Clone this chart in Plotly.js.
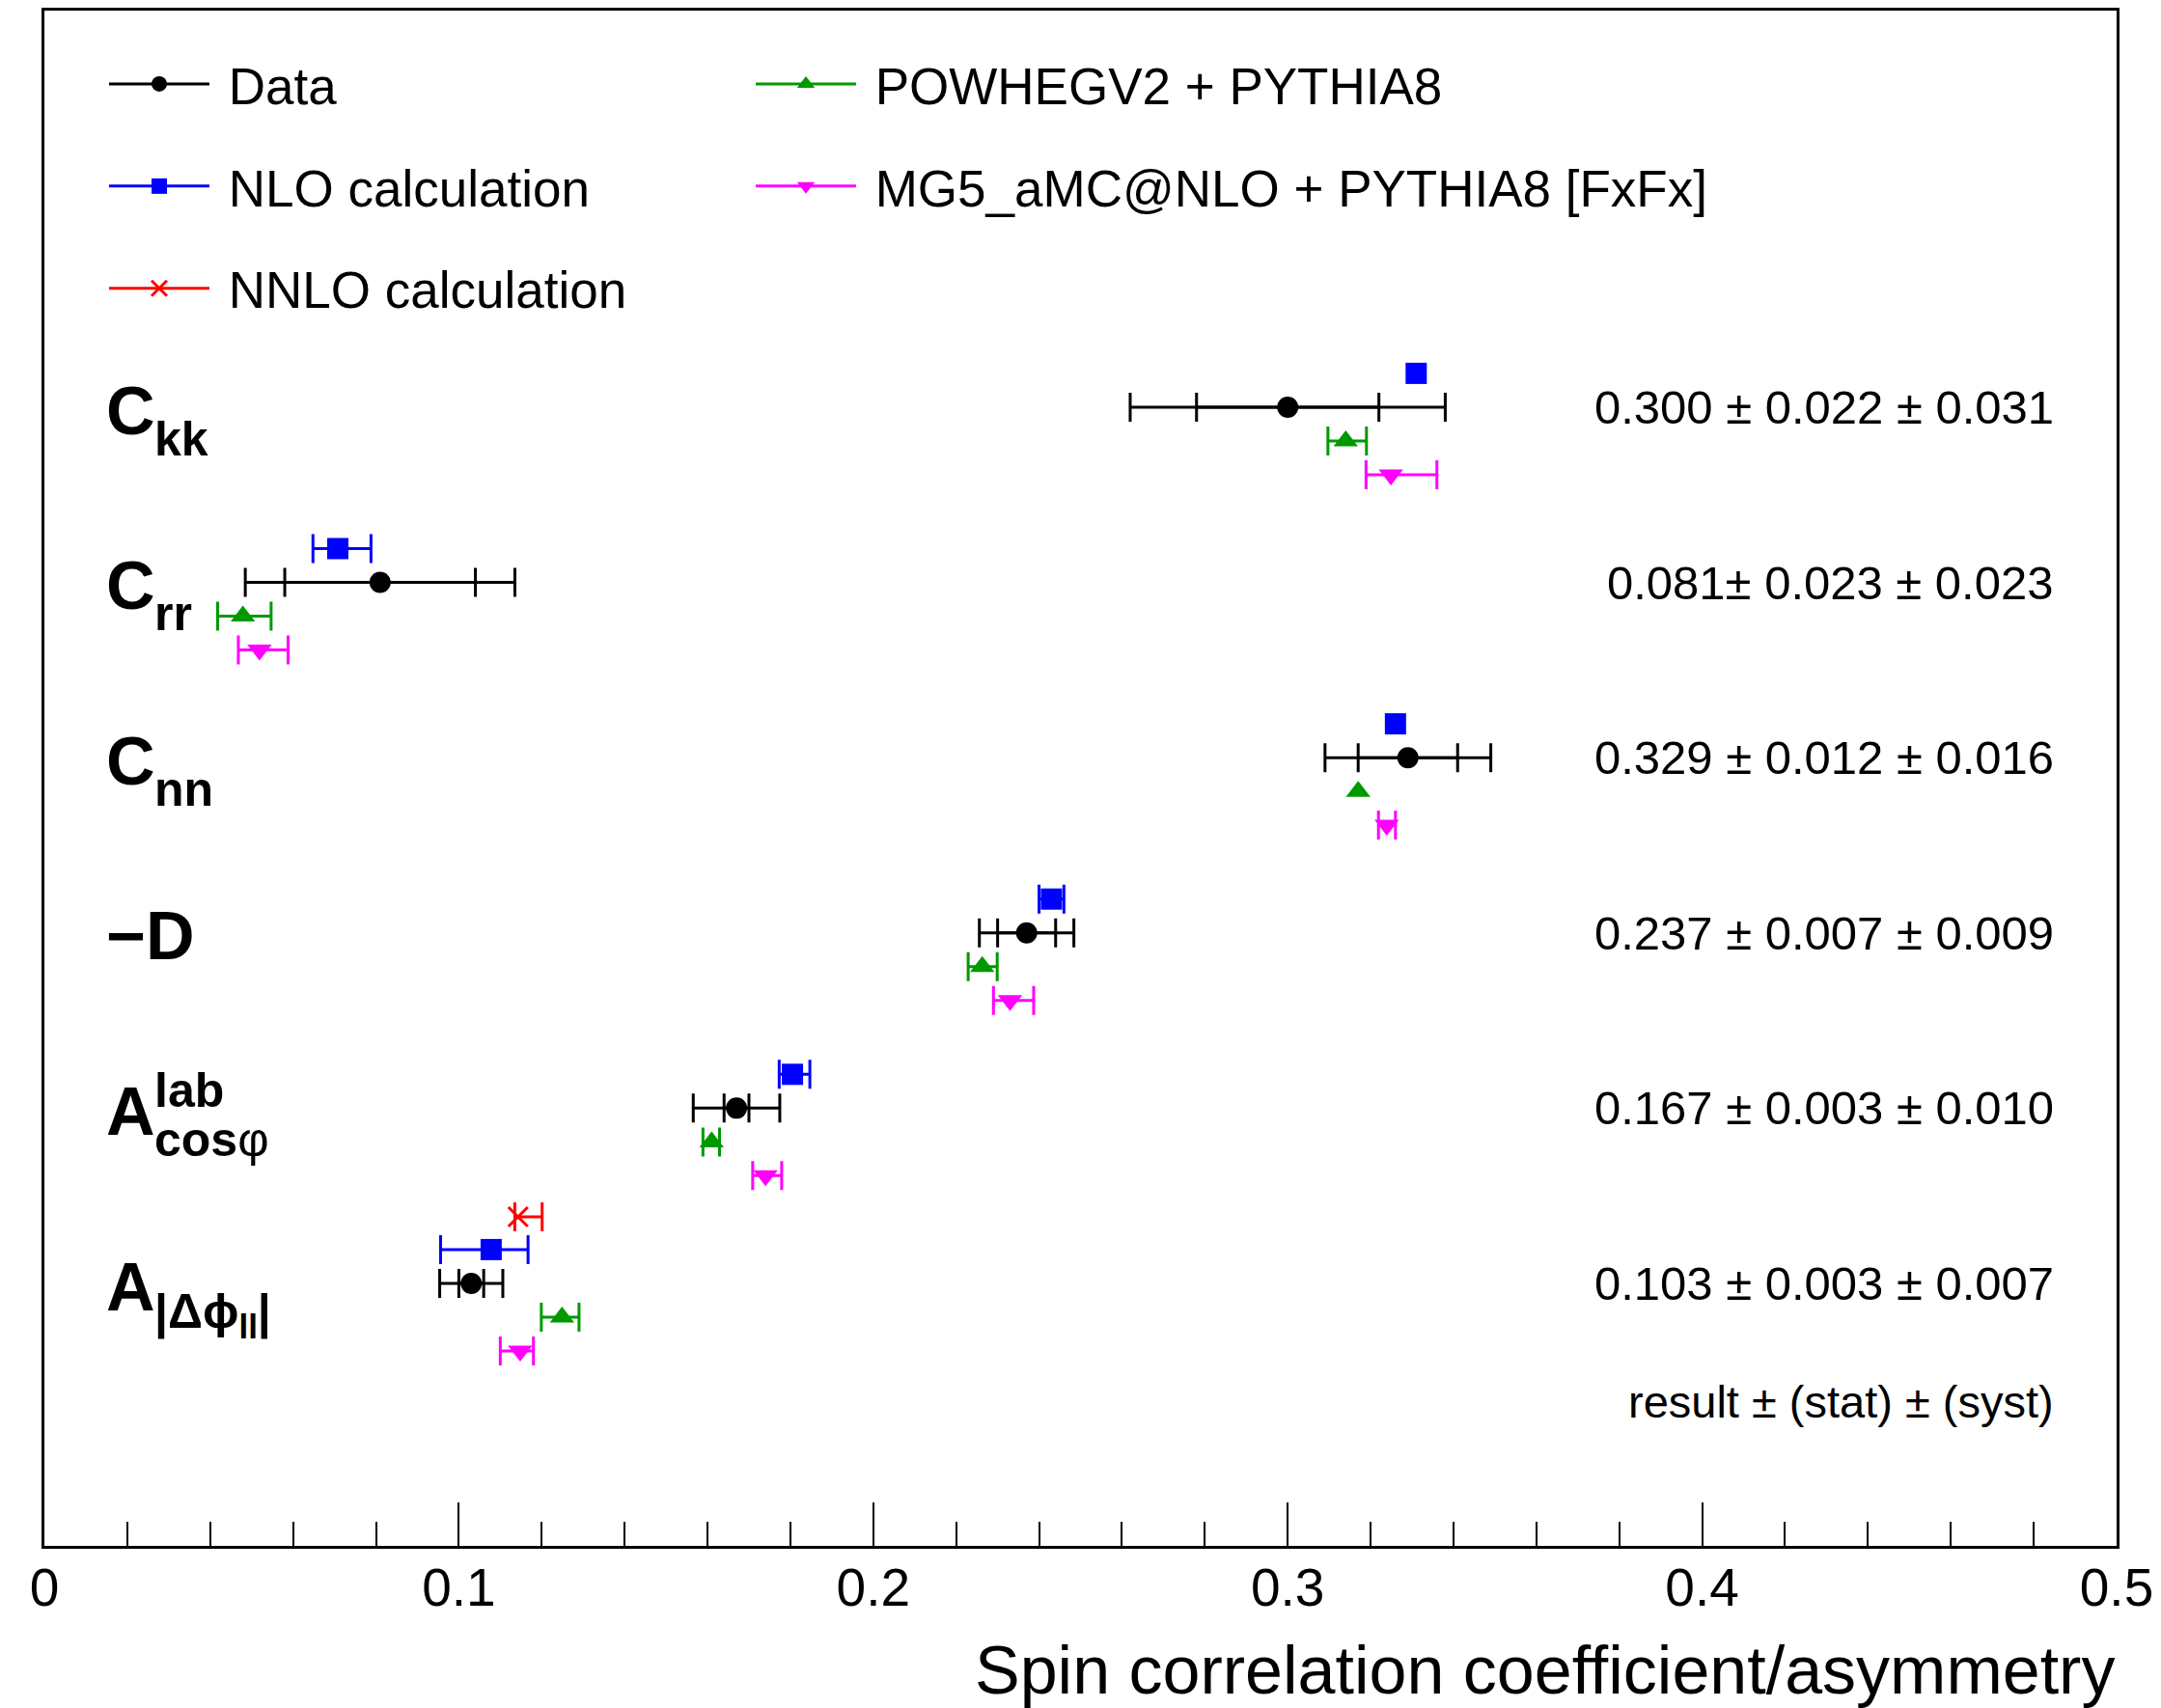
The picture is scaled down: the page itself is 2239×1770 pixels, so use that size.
<!DOCTYPE html>
<html><head><meta charset="utf-8">
<script src="https://cdn.plot.ly/plotly-3.0.1.min.js"></script>
<style>html,body{margin:0;padding:0;background:#fff}</style>
</head><body>
<div id="chart" style="width:2239px;height:1770px"></div>
<script>
// ---------------- data ----------------
const categories = ['Ckk', 'Crr', 'Cnn', '-D', 'Acos', 'Adphi'];
const labelMain = ['C', 'C', 'C', '\u2212D', 'A', 'A'];
const labelSub = ['kk', 'rr', 'nn', '', 'cos<span style="font-weight:normal">\u03c6</span>', '|\u0394\u03d5<sub>ll</sub>|'];
const labelSup = ['', '', '', '', 'lab', ''];
const resultText = [
  '0.300 \u00b1 0.022 \u00b1 0.031',
  '0.081\u00b1 0.023 \u00b1 0.023',
  '0.329 \u00b1 0.012 \u00b1 0.016',
  '0.237 \u00b1 0.007 \u00b1 0.009',
  '0.167 \u00b1 0.003 \u00b1 0.010',
  '0.103 \u00b1 0.003 \u00b1 0.007'
];
const resultNote = 'result \u00b1 (stat) \u00b1 (syst)';

const dataVal  = [0.300, 0.081, 0.329, 0.237, 0.167, 0.103];
const dataStat = [0.022, 0.023, 0.012, 0.007, 0.003, 0.003];
const dataSyst = [0.031, 0.023, 0.016, 0.009, 0.010, 0.007];

// null = uncertainty too small to be visible
const nloVal   = [0.331, 0.0708, 0.326, 0.243, 0.1805, 0.1078];
const nloMinus = [null, 0.006, null, 0.003, 0.0032, 0.0122];
const nloPlus  = [null, 0.008, null, 0.003, 0.0042, 0.0089];

const nnloVal   = [null, null, null, null, null, 0.1143];
const nnloMinus = [null, null, null, null, null, 0.0008];
const nnloPlus  = [null, null, null, null, null, 0.0058];

const powVal   = [0.314, 0.0479, 0.317, 0.2263, 0.161, 0.1249];
const powMinus = [0.0043, 0.0061, null, 0.0034, 0.0021, 0.005];
const powPlus  = [0.005, 0.0068, null, 0.0036, 0.0019, 0.0041];

const mgVal   = [0.3249, 0.0519, 0.3239, 0.2330, 0.174, 0.1148];
const mgMinus = [0.006, 0.0051, 0.002, 0.004, 0.0031, 0.0048];
const mgPlus  = [0.0111, 0.0069, 0.0021, 0.0057, 0.0039, 0.0032];

const xTickVals = [0, 0.1, 0.2, 0.3, 0.4, 0.5];
const xTickText = ['0', '0.1', '0.2', '0.3', '0.4', '0.5'];
const xTitle = 'Spin correlation coefficient/asymmetry';

// ---------------- helpers ----------------
const FONT = 'Liberation Sans, Arial, Helvetica, sans-serif';
function gapped(arr) { const o = []; arr.forEach((v, i) => { if (i) o.push(null); o.push(v); }); return o; }
function rowY(offset) { return gapped(categories.map((c, i) => i + 1 + offset)); }
const dataTotal = dataStat.map((s, i) => Math.sqrt(s * s + dataSyst[i] * dataSyst[i]));

const OFF = { nnlo: -0.38, nlo: -0.193, data: 0, pow: 0.193, mg: 0.385 };
const SP = '\u00a0';

// error-bar only trace (points without a visible uncertainty are left out)
function errTrace(vals, minus, plus, off, color, legend) {
  const xs = vals.map((v, i) => (minus[i] == null || plus[i] == null) ? null : v);
  return {
    type: 'scatter', mode: 'markers', x: gapped(xs), y: rowY(off), showlegend: false, legend: legend,
    marker: { color: color, size: 2, opacity: 0 },
    error_x: { type: 'data', symmetric: false, array: gapped(plus), arrayminus: gapped(minus),
               color: color, thickness: 3, width: 15 },
    cliponaxis: false, hoverinfo: 'skip'
  };
}
// marker trace (lines mode only so the legend shows a line; gaps keep points unconnected)
function markTrace(name, vals, off, color, marker, legend, group) {
  return {
    type: 'scatter', mode: 'lines+markers', name: SP + name,
    x: gapped(vals), y: rowY(off), connectgaps: false,
    line: { color: color, width: 3 },
    marker: Object.assign({ color: color }, marker),
    legend: legend, legendgroup: group, cliponaxis: false, hoverinfo: 'x'
  };
}

const traces = [
  errTrace(dataVal, dataTotal, dataTotal, OFF.data, '#000000', 'legend'),
  errTrace(dataVal, dataStat, dataStat, OFF.data, '#000000', 'legend'),
  errTrace(nloVal, nloMinus, nloPlus, OFF.nlo, '#0000ff', 'legend'),
  errTrace(nnloVal, nnloMinus, nnloPlus, OFF.nnlo, '#ff0000', 'legend'),
  errTrace(powVal, powMinus, powPlus, OFF.pow, '#009900', 'legend2'),
  errTrace(mgVal, mgMinus, mgPlus, OFF.mg, '#ff00ff', 'legend2'),
  markTrace('Data', dataVal, OFF.data, '#000000', { symbol: 'circle', size: 22 }, 'legend', 'g1'),
  markTrace('NLO calculation', nloVal, OFF.nlo, '#0000ff', { symbol: 'square', size: 22 }, 'legend', 'g2'),
  markTrace('NNLO calculation', nnloVal, OFF.nnlo, '#ff0000',
            { symbol: 'x-thin-open', size: 20, line: { color: '#ff0000', width: 3 } }, 'legend', 'g3'),
  markTrace('POWHEGV2 + PYTHIA8', powVal, OFF.pow, '#009900', { symbol: 'triangle-up', size: 22 }, 'legend2', 'g4'),
  markTrace('MG5_aMC@NLO + PYTHIA8 [FxFx]', mgVal, OFF.mg, '#ff00ff', { symbol: 'triangle-down', size: 22 }, 'legend2', 'g5')
];

// ---------------- annotations ----------------
const PLOT_L = 46, PLOT_R = 2193;
const px2paper = px => (px - PLOT_L) / (PLOT_R - PLOT_L);
const annotations = [];
categories.forEach((c, i) => {
  annotations.push({ xref: 'paper', yref: 'y', x: px2paper(108), y: i + 1 + 0.02, xanchor: 'left', yanchor: 'middle',
    text: labelMain[i], showarrow: false, font: { family: FONT, size: 70, color: '#000', weight: 700 } });
  if (labelSub[i]) annotations.push({ xref: 'paper', yref: 'y', x: px2paper(158), y: i + 1 + 0.18, xanchor: 'left', yanchor: 'middle',
    text: labelSub[i], showarrow: false, font: { family: FONT, size: 50, color: '#000', weight: 700 } });
  if (labelSup[i]) annotations.push({ xref: 'paper', yref: 'y', x: px2paper(158), y: i + 1 - 0.1, xanchor: 'left', yanchor: 'middle',
    text: labelSup[i], showarrow: false, font: { family: FONT, size: 50, color: '#000', weight: 700 } });
  annotations.push({ xref: 'paper', yref: 'y', x: px2paper(2130), y: i + 1, xanchor: 'right', yanchor: 'middle',
    text: resultText[i], showarrow: false, font: { family: FONT, size: 49, color: '#000' } });
});
annotations.push({ xref: 'paper', yref: 'y', x: px2paper(2130), y: 6.672, xanchor: 'right', yanchor: 'middle',
  text: resultNote, showarrow: false, font: { family: FONT, size: 47, color: '#000' } });
annotations.push({ xref: 'paper', yref: 'paper', x: 1, y: -0.081, xanchor: 'right', yanchor: 'middle',
  text: xTitle, showarrow: false, font: { family: FONT, size: 70, color: '#000' } });

const legendBase = {
  xanchor: 'left', yanchor: 'top', orientation: 'v', bgcolor: 'rgba(0,0,0,0)', borderwidth: 0,
  font: { family: FONT, size: 53, color: '#000' }, itemwidth: 104, tracegroupgap: 34,
  traceorder: 'grouped', itemclick: false, itemdoubleclick: false
};

const layout = {
  width: 2239, height: 1770,
  margin: { l: PLOT_L, r: 2239 - PLOT_R, t: 11, b: 168, pad: 0 },
  paper_bgcolor: '#fff', plot_bgcolor: '#fff',
  font: { family: FONT, color: '#000' },
  showlegend: true,
  legend: Object.assign({}, legendBase, { x: px2paper(108), y: 1 - (46 - 11) / 1591 }),
  legend2: Object.assign({}, legendBase, { x: px2paper(778), y: 1 - (46 - 11) / 1591 }),
  xaxis: {
    range: [0, 0.5], tickvals: xTickVals, ticktext: xTickText,
    ticks: 'inside', ticklen: 45, tickwidth: 2, tickcolor: '#000',
    minor: { dtick: 0.02, tick0: 0, ticks: 'inside', ticklen: 25, tickwidth: 2, tickcolor: '#000', showgrid: false },
    showline: true, linecolor: '#000', linewidth: 3, mirror: true,
    showgrid: false, zeroline: false, ticklabelstandoff: -7,
    tickfont: { family: FONT, size: 55, color: '#000' }
  },
  yaxis: {
    range: [7.498, -1.263], showline: true, linecolor: '#000', linewidth: 3, mirror: true,
    showticklabels: false, ticks: '', showgrid: false, zeroline: false
  },
  annotations: annotations
};

Plotly.newPlot('chart', traces, layout, { staticPlot: true, displayModeBar: false });
</script>
</body></html>
